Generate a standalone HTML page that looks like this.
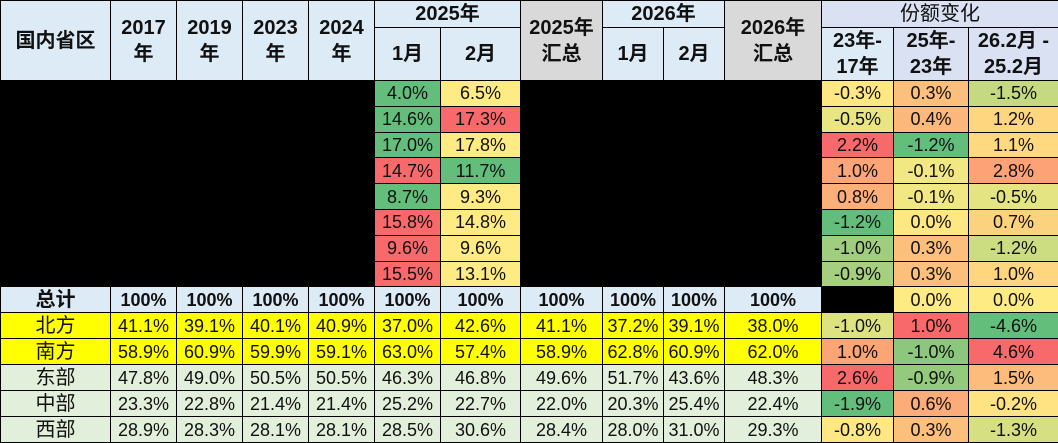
<!DOCTYPE html>
<html><head><meta charset="utf-8"><style>
html,body{margin:0;padding:0;background:#fff;width:1058px;height:443px;overflow:hidden}
table{border-collapse:collapse;table-layout:fixed;width:1058px;font-family:"Liberation Sans","Noto Sans CJK SC",sans-serif;color:#111}
td{border:1.5px solid #000;text-align:center;padding:0;font-size:18px;line-height:20px;overflow:hidden;white-space:nowrap}
.h td{font-weight:bold;font-size:20px;line-height:26px}
.hb{background:#DDEBF7}.g{background:#D9D9D9}.lv{background:#D9E1F2}
.k{background:#000}
.tot td{background:#DDEBF7;font-weight:bold;font-size:18px}
.y td{background:#FFFF00}
.lg td{background:#E2EFDA}
.G{background:#63BE7B}.R{background:#F8696B}.Y{background:#FFEB84}
.d td{height:24.8px}
td.nm{font-size:20px;font-weight:normal;text-align:center}
</style></head><body>
<table>
<colgroup><col style="width:110px"><col style="width:66px"><col style="width:66px"><col style="width:66px"><col style="width:66px"><col style="width:66px"><col style="width:80px"><col style="width:82px"><col style="width:61px"><col style="width:61px"><col style="width:97px"><col style="width:72px"><col style="width:75px"><col style="width:90px"></colgroup>
<tr class="h" style="height:26px">
<td rowspan="2" class="hb">国内省区</td>
<td rowspan="2" class="hb">2017<br>年</td><td rowspan="2" class="hb">2019<br>年</td><td rowspan="2" class="hb">2023<br>年</td><td rowspan="2" class="hb">2024<br>年</td>
<td colspan="2" class="hb">2025年</td>
<td rowspan="2" class="g">2025年<br>汇总</td>
<td colspan="2" class="hb">2026年</td>
<td rowspan="2" class="g">2026年<br>汇总</td>
<td colspan="3" class="lv" style="font-weight:normal">份额变化</td></tr>
<tr class="h" style="height:53px">
<td class="hb">1月</td><td class="hb">2月</td><td class="hb">1月</td><td class="hb">2月</td>
<td class="hb">23年-<br>17年</td><td class="lv">25年-<br>23年</td><td class="lv">26.2月 -<br>25.2月</td></tr>
<tr class="d"><td colspan="5" rowspan="8" class="k"></td><td class="G">4.0%</td><td class="Y">6.5%</td><td colspan="4" rowspan="8" class="k"></td><td style="background:#FFE784">-0.3%</td><td style="background:#FDC07C">0.3%</td><td style="background:#C5DA80">-1.5%</td></tr>
<tr class="d"><td class="G">14.6%</td><td class="R">17.3%</td><td style="background:#E8E582">-0.5%</td><td style="background:#FCB87A">0.4%</td><td style="background:#FED680">1.2%</td></tr>
<tr class="d"><td class="G">17.0%</td><td class="Y">17.8%</td><td class="R">2.2%</td><td class="G">-1.2%</td><td style="background:#FED980">1.1%</td></tr>
<tr class="d"><td class="R">14.7%</td><td class="G">11.7%</td><td style="background:#FCA577">1.0%</td><td style="background:#F2E883">-0.1%</td><td style="background:#FCA276">2.8%</td></tr>
<tr class="d"><td class="G">8.7%</td><td class="Y">9.3%</td><td style="background:#FCAF79">0.8%</td><td style="background:#F2E883">-0.1%</td><td style="background:#E5E483">-0.5%</td></tr>
<tr class="d"><td class="R">15.8%</td><td class="Y">14.8%</td><td class="G">-1.2%</td><td style="background:#FFE784">0.0%</td><td style="background:#FDD27F">0.7%</td></tr>
<tr class="d"><td class="R">9.6%</td><td class="Y">9.6%</td><td style="background:#A0CE7F">-1.0%</td><td style="background:#FDC07C">0.3%</td><td style="background:#CCDC81">-1.2%</td></tr>
<tr class="d"><td class="R">15.5%</td><td class="Y">13.1%</td><td style="background:#A6D07F">-0.9%</td><td style="background:#FDC07C">0.3%</td><td style="background:#FED680">1.0%</td></tr>
<tr class="tot" style="height:26px"><td style="font-size:20px">总计</td><td>100%</td><td>100%</td><td>100%</td><td>100%</td><td>100%</td><td>100%</td><td>100%</td><td>100%</td><td>100%</td><td>100%</td><td style="background:#000"></td><td style="background:#FFEB84;font-weight:normal">0.0%</td><td style="background:#FFEB84;font-weight:normal">0.0%</td></tr>
<tr class="y" style="height:26px"><td class="nm">北方</td><td>41.1%</td><td>39.1%</td><td>40.1%</td><td>40.9%</td><td>37.0%</td><td>42.6%</td><td>41.1%</td><td>37.2%</td><td>39.1%</td><td>38.0%</td><td style="background:#DDE283">-1.0%</td><td style="background:#F8696B">1.0%</td><td style="background:#63BE7B">-4.6%</td></tr>
<tr class="y" style="height:26px"><td class="nm">南方</td><td>58.9%</td><td>60.9%</td><td>59.9%</td><td>59.1%</td><td>63.0%</td><td>57.4%</td><td>58.9%</td><td>62.8%</td><td>60.9%</td><td>62.0%</td><td style="background:#FBA576">1.0%</td><td style="background:#8BC87D">-1.0%</td><td style="background:#F8696B">4.6%</td></tr>
<tr class="lg" style="height:26px"><td class="nm">东部</td><td>47.8%</td><td>49.0%</td><td>50.5%</td><td>50.5%</td><td>46.3%</td><td>46.8%</td><td>49.6%</td><td>51.7%</td><td>43.6%</td><td>48.3%</td><td style="background:#F8696B">2.6%</td><td style="background:#93CA7E">-0.9%</td><td style="background:#FDBC7B">1.5%</td></tr>
<tr class="lg" style="height:26px"><td class="nm">中部</td><td>23.3%</td><td>22.8%</td><td>21.4%</td><td>21.4%</td><td>25.2%</td><td>22.7%</td><td>22.0%</td><td>20.3%</td><td>25.4%</td><td>22.4%</td><td style="background:#63BE7B">-1.9%</td><td style="background:#FCAC78">0.6%</td><td style="background:#FFE383">-0.2%</td></tr>
<tr class="lg" style="height:26px"><td class="nm">西部</td><td>28.9%</td><td>28.3%</td><td>28.1%</td><td>28.1%</td><td>28.5%</td><td>30.6%</td><td>28.4%</td><td>28.0%</td><td>31.0%</td><td>29.3%</td><td style="background:#FFE784">-0.8%</td><td style="background:#FDC07C">0.3%</td><td style="background:#D6DF82">-1.3%</td></tr>
</table>
</body></html>
